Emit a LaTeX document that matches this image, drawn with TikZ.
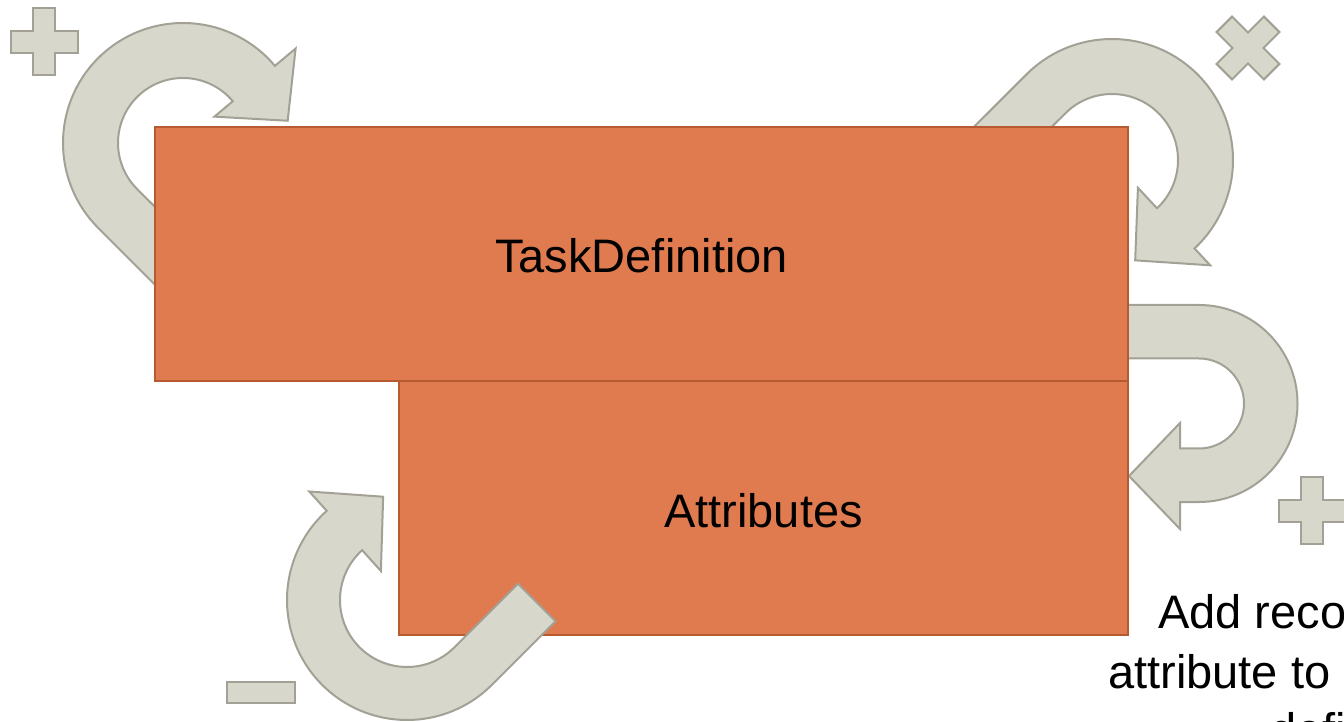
\documentclass[tikz,border=0pt]{standalone}
\usepackage{fontspec}
\setmainfont{Liberation Sans}
\definecolor{arrowfill}{RGB}{216,215,203}
\definecolor{arrowline}{RGB}{163,161,150}
\definecolor{boxfill}{RGB}{224,123,79}
\definecolor{boxline}{RGB}{182,91,49}
\newcommand{\plusglyph}{(-11,33.5) -- (11,33.5) -- (11,11) -- (33.5,11) -- (33.5,-11) -- (11,-11) -- (11,-33.5) -- (-11,-33.5) -- (-11,-11) -- (-33.5,-11) -- (-33.5,11) -- (-11,11) -- cycle}
\begin{document}
\begin{tikzpicture}[x=1pt,y=1pt,
  glyph/.style={fill=arrowfill,draw=arrowline,line width=2pt,line join=miter},
  boxnode/.style={rectangle,fill=boxfill,draw=boxline,line width=1.5pt,inner sep=0pt,
    text height=38pt,text depth=0pt,font=\fontsize{47}{56}\selectfont},
  notetext/.style={inner sep=0pt,anchor=base west,font=\fontsize{47}{56}\selectfont}]
\useasboundingbox (0,0) rectangle (1344,721);

% top-left circular arrow (under the box)
\begin{scope}[shift={(183,578)}]
\draw[glyph] (-21.2,-148.5) -- (225:120) arc[start angle=225,end angle=40,radius=120]
  -- (40:147) -- (12:107) -- (40:41) -- (40:65)
  arc[start angle=40,end angle=225,radius=65] -- (17.7,-109.6) -- cycle;
\end{scope}

% top-right circular arrow (under the box)
\begin{scope}[shift={(1112,561)}]
\draw[glyph] (-149.2,22) -- (135:121) arc[start angle=135,end angle=-47,radius=121]
  -- (-47:144) -- (-77:103) -- (-47:38) -- (-47:66)
  arc[start angle=-47,end angle=135,radius=66] -- (-110.3,-16.9) -- cycle;
\end{scope}

% right U-turn arrow
\begin{scope}[shift={(1199,317.5)}]
\draw[glyph] (-100,98.5) -- (0,98.5) arc[start angle=90,end angle=-90,radius=98.5]
  -- (-19,-98.5) -- (-19,-125.5) -- (-70,-72.5) -- (-19,-19.5) -- (-19,-45) -- (0,-45)
  arc[start angle=-90,end angle=90,radius=45] -- (-100,45) -- cycle;
\end{scope}

% boxes
\node[boxnode,minimum width=973pt,minimum height=254pt] (taskdef) at (641.5,467) {TaskDefinition};
\node[boxnode,minimum width=729pt,minimum height=254pt] (attrs) at (763.5,213) {Attributes};

% bottom-left circular arrow (over the box)
\begin{scope}[shift={(407,121)}]
\draw[glyph] (148.5,-21.2) -- (-45:120) arc[start angle=-45,end angle=-228,radius=120]
  -- (-228:146) -- (-257:106) -- (-228:39) -- (-228:67)
  arc[start angle=-228,end angle=-45,radius=67] -- (111,16.2) -- cycle;
\end{scope}

% symbols
\draw[glyph,shift={(44,679)}] \plusglyph;
\draw[glyph,shift={(1248,673)},rotate=45] \plusglyph;
\draw[glyph,shift={(1312,210.5)}] \plusglyph;
\draw[glyph] (227,39) rectangle (295,18);

% note text
\node[notetext] (note1) at (1158,93) {Add reco};
\node[notetext] (note2) at (1108,33) {attribute to};
\node[notetext] (note3) at (1270,-25) {defi};
\end{tikzpicture}
\end{document}
